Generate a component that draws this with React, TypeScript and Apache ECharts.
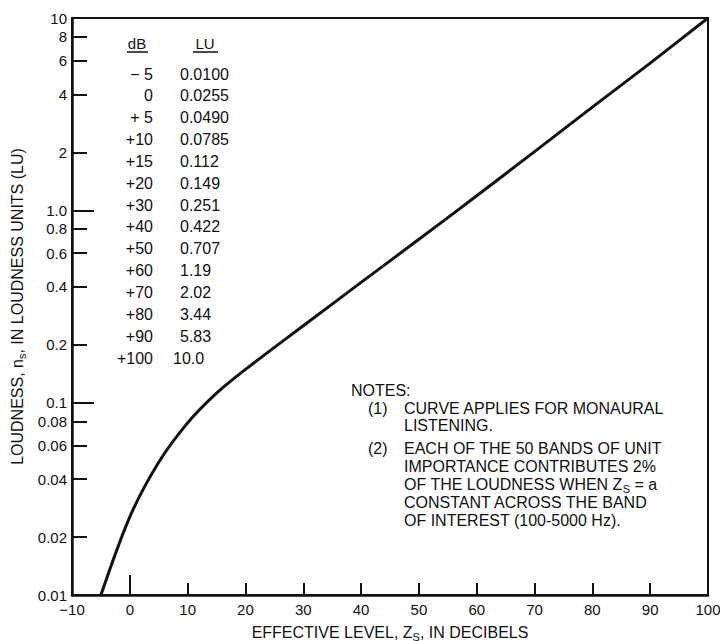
import React, { useEffect, useRef } from 'react';
import * as echarts from 'echarts';

const DB_LEVELS = [-5, 0, 5, 10, 15, 20, 30, 40, 50, 60, 70, 80, 90, 100];
const LOUDNESS_LU = [0.01, 0.0255, 0.049, 0.0785, 0.112, 0.149, 0.251, 0.422, 0.707, 1.19, 2.02, 3.44, 5.83, 10.0];

const X_MIN = -10;
const X_MAX = 100;
const X_INTERVAL = 10;
const X_LONG_TICKS = [0];

const Y_TICK_VALUES = [0.01, 0.02, 0.04, 0.06, 0.08, 0.1, 0.2, 0.4, 0.6, 0.8, 1, 2, 4, 6, 8, 10];
const Y_TICK_LABELS = ['0.01', '0.02', '0.04', '0.06', '0.08', '0.1', '0.2', '0.4', '0.6', '0.8', '1.0', '2', '4', '6', '8', '10'];
const Y_LONG_TICKS = [0.1, 1];

const TABLE_HEADERS = ['dB', 'LU'];
const NOTE_TITLE = 'NOTES:';
const NOTE_ITEMS = [
  { num: '(1)', lines: ['CURVE APPLIES FOR MONAURAL', 'LISTENING.'] },
  {
    num: '(2)',
    lines: [
      'EACH OF THE 50 BANDS OF UNIT',
      'IMPORTANCE CONTRIBUTES 2%',
      'OF THE LOUDNESS WHEN Z{s|S} = a',
      'CONSTANT ACROSS THE BAND',
      'OF INTEREST (100-5000 Hz).',
    ],
  },
];

const FONT = '"Liberation Sans", Arial, Helvetica, sans-serif';
const INK = '#111';

function fmtDb(v: number): string {
  if (v < 0) return '\u2212 ' + Math.abs(v);
  if (v === 0) return '0';
  if (v < 10) return '+ ' + v;
  return '+' + v;
}
function fmtLu(v: number): string {
  return v.toPrecision(3);
}

const log10 = (v: number) => Math.log10(v);

export default function App() {
  const ref = useRef<HTMLDivElement>(null);

  useEffect(() => {
    if (!ref.current) return;
    const chart = echarts.init(ref.current, undefined, { renderer: 'svg' });

    const subRich = {
      s: { fontSize: 11, lineHeight: 12, verticalAlign: 'bottom' as const, fontFamily: FONT, color: INK },
    };

    const graphics: any[] = [];
    // table headers
    const headerX = [137, 205];
    const underline = [[127, 148], [193, 218]];
    TABLE_HEADERS.forEach((h, i) => {
      graphics.push({
        type: 'text',
        x: headerX[i],
        y: 43,
        style: {
          text: h,
          fontSize: 15,
          fontFamily: FONT,
          fill: INK,
          align: 'center',
          textAlign: 'center',
          verticalAlign: 'middle',
          textVerticalAlign: 'middle',
        },
      });
      graphics.push({
        type: 'line',
        shape: { x1: underline[i][0], y1: 52, x2: underline[i][1], y2: 52 },
        style: { stroke: INK, lineWidth: 1.5 },
      });
    });
    // table rows
    DB_LEVELS.forEach((d, i) => {
      const y = 74 + 21.85 * i;
      graphics.push({
        type: 'text',
        x: 153,
        y,
        style: {
          text: fmtDb(d),
          fontSize: 16,
          fontFamily: FONT,
          fill: INK,
          align: 'right',
          textAlign: 'right',
          verticalAlign: 'middle',
          textVerticalAlign: 'middle',
        },
      });
      const lu = LOUDNESS_LU[i];
      graphics.push({
        type: 'text',
        x: lu >= 10 ? 173 : 180,
        y,
        style: {
          text: fmtLu(lu),
          fontSize: 16,
          fontFamily: FONT,
          fill: INK,
          align: 'left',
          textAlign: 'left',
          verticalAlign: 'middle',
          textVerticalAlign: 'middle',
        },
      });
    });
    // notes
    const noteStyle = (text: string) => ({
      text,
      fontSize: 16,
      fontFamily: FONT,
      fill: INK,
      align: 'left',
      textAlign: 'left',
      verticalAlign: 'middle',
      textVerticalAlign: 'middle',
      lineHeight: 20,
      rich: subRich,
    });
    graphics.push({ type: 'text', x: 351, y: 390, style: noteStyle(NOTE_TITLE) });
    let ny = 408;
    NOTE_ITEMS.forEach((item, k) => {
      if (k > 0) ny += 5;
      graphics.push({ type: 'text', x: 368, y: ny, style: noteStyle(item.num) });
      item.lines.forEach((ln) => {
        graphics.push({ type: 'text', x: 404, y: ny, style: noteStyle(ln) });
        ny += 17.9;
      });
    });

    const yTickLogs = Y_TICK_VALUES.map(log10);
    const yLongLogs = Y_LONG_TICKS.map(log10);
    const yMinLog = log10(Y_TICK_VALUES[0]);
    const yMaxLog = log10(Y_TICK_VALUES[Y_TICK_VALUES.length - 1]);

    chart.setOption({
      animation: false,
      backgroundColor: '#fff',
      textStyle: { fontFamily: FONT, color: INK },
      grid: {
        left: 72,
        right: 12,
        top: 18,
        bottom: 46,
        containLabel: false,
        outerBoundsMode: 'none',
        show: true,
        borderColor: INK,
        borderWidth: 2,
        backgroundColor: 'transparent',
      },
      xAxis: [
        {
          type: 'value',
          min: X_MIN,
          max: X_MAX,
          interval: X_INTERVAL,
          position: 'bottom',
          axisLine: { show: true, onZero: false, lineStyle: { color: INK, width: 2.5 } },
          axisTick: { show: true, inside: true, length: 12, lineStyle: { color: INK, width: 2 } },
          axisLabel: {
            show: true,
            fontSize: 15,
            fontFamily: FONT,
            color: INK,
            margin: 7,
            formatter: (v: number) => (v < 0 ? '\u2212' + Math.abs(v) : String(v)),
          },
          splitLine: { show: false },
          name: 'EFFECTIVE LEVEL, Z{s|S}, IN DECIBELS',
          nameLocation: 'middle',
          nameGap: 27,
          nameMoveOverlap: false,
          nameTextStyle: { fontSize: 16, fontFamily: FONT, color: INK, lineHeight: 20, rich: subRich },
        },
        {
          type: 'value',
          min: X_MIN,
          max: X_MAX,
          position: 'bottom',
          axisLine: { show: false, onZero: false },
          axisLabel: { show: false },
          splitLine: { show: false },
          axisTick: {
            show: true,
            inside: true,
            length: 20,
            customValues: X_LONG_TICKS,
            lineStyle: { color: INK, width: 2 },
          },
        },
      ],
      yAxis: [
        {
          type: 'log',
          logBase: 10,
          min: Y_TICK_VALUES[0],
          max: Y_TICK_VALUES[Y_TICK_VALUES.length - 1],
          position: 'left',
          axisLine: { show: true, onZero: false, lineStyle: { color: INK, width: 2.5 } },
          axisTick: { show: false },
          axisLabel: { show: false },
          splitLine: { show: false },
          minorSplitLine: { show: false },
          name: 'LOUDNESS, n{s|s}, IN LOUDNESS UNITS (LU)',
          nameLocation: 'middle',
          nameGap: 45,
          nameMoveOverlap: false,
          nameTextStyle: { fontSize: 16, fontFamily: FONT, color: INK, lineHeight: 20, rich: subRich },
        },
        {
          type: 'value',
          min: yMinLog,
          max: yMaxLog,
          position: 'left',
          axisLine: { show: false, onZero: false },
          splitLine: { show: false },
          axisTick: {
            show: true,
            inside: true,
            length: 15,
            customValues: yTickLogs,
            lineStyle: { color: INK, width: 2 },
          },
          axisLabel: {
            show: true,
            customValues: yTickLogs,
            fontSize: 15,
            fontFamily: FONT,
            color: INK,
            margin: 5,
            formatter: (v: number) => {
              const i = yTickLogs.findIndex((t) => Math.abs(t - v) < 1e-6);
              return i >= 0 ? Y_TICK_LABELS[i] : '';
            },
          },
        },
        {
          type: 'value',
          min: yMinLog,
          max: yMaxLog,
          position: 'left',
          axisLine: { show: false, onZero: false },
          splitLine: { show: false },
          axisLabel: { show: false },
          axisTick: {
            show: true,
            inside: true,
            length: 22,
            customValues: yLongLogs,
            lineStyle: { color: INK, width: 2 },
          },
        },
      ],
      graphic: graphics,
      series: [
        {
          type: 'line',
          xAxisIndex: 0,
          yAxisIndex: 0,
          data: DB_LEVELS.map((d, i) => [d, LOUDNESS_LU[i]]),
          smooth: 0.3,
          symbol: 'none',
          showSymbol: false,
          lineStyle: { color: INK, width: 3 },
          clip: false,
        },
      ],
    });

    return () => chart.dispose();
  }, []);

  return (
    <div
      ref={ref}
      style={{ position: 'fixed', left: 0, top: 0, width: 720, height: 641, background: '#fff' }}
    />
  );
}
